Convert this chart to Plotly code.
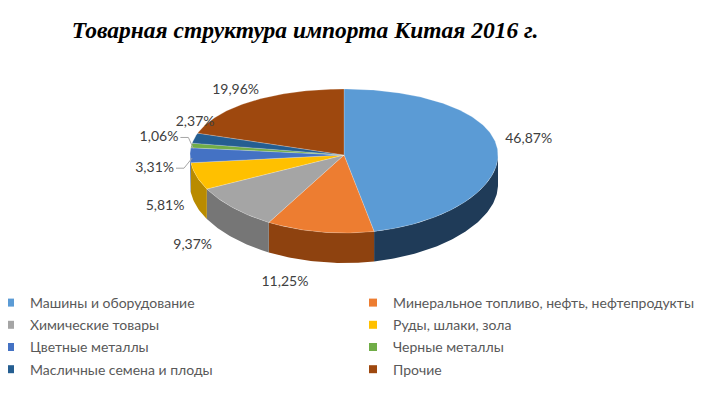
import numpy as np
import plotly.graph_objects as go

# ---------------- data ----------------
title_text = "Товарная структура импорта Китая 2016 г."
categories = [
    "Машины и оборудование",
    "Минеральное топливо, нефть, нефтепродукты",
    "Химические товары",
    "Руды, шлаки, зола",
    "Цветные металлы",
    "Черные металлы",
    "Масличные семена и плоды",
    "Прочие",
]
shares = [46.87, 11.25, 9.37, 5.81, 3.31, 1.06, 2.37, 19.96]

# ---------------- style ----------------
top_colors = ["#5B9BD5", "#ED7D31", "#A5A5A5", "#FFC000",
              "#4472C4", "#70AD47", "#255E91", "#9E480E"]
wall_colors = ["#1F3B58", "#8E420F", "#767676", "#B98B00",
               "#2E4F8C", "#4E7A32", "#183F62", "#6B3009"]
# label placement relative to the slice's outer edge (pixels) and text anchor
label_offsets = [(8, -8), (-35, 44), (-21, 38), (-12, 30),
                 (-16, 13), (-13, -8), (20, -16), (-18, -3)]
label_pos = ["middle right", "bottom center", "middle left", "middle left",
             "middle left", "middle left", "middle left", "top center"]
leader = [False, False, False, False, True, True, False, False]

W, H = 702, 398
PAGE_OFF = 8                  # the page body's default 8px margin
CX, CY, RX = 344, 155, 154
RY_A, RY_B = 72, -6          # slight perspective: far half flatter
DEPTH = 30
TEXT_COL = "#404040"
FONT = "Lato"


def px_x(p):
    return (p - PAGE_OFF) / W


def px_y(p):
    return 1 - (p - PAGE_OFF) / H


def ell(theta):
    """Point on the top rim; theta clockwise from 12 o'clock (radians)."""
    c = np.cos(theta)
    return CX + RX * np.sin(theta), CY - (RY_A * c + RY_B * c * c)


fig = go.Figure()

total = sum(shares)
bounds = np.concatenate([[0], np.cumsum(shares)]) / total * 2 * np.pi

# side walls (front half only)
for i, v in enumerate(shares):
    a0 = max(bounds[i], np.pi / 2)
    a1 = min(bounds[i + 1], 3 * np.pi / 2)
    if a1 <= a0:
        continue
    t = np.linspace(a0, a1, max(3, int(np.degrees(a1 - a0)) + 2))
    x, y = ell(t)
    xs = np.concatenate([x, x[::-1], x[:1]])
    ys = np.concatenate([y, y[::-1] + DEPTH, y[:1]])
    fig.add_trace(go.Scatter(x=xs, y=ys, mode="lines", fill="toself",
                             fillcolor=wall_colors[i], line=dict(width=0),
                             hoverinfo="skip", showlegend=False))

# top faces
for i, v in enumerate(shares):
    a0, a1 = bounds[i], bounds[i + 1]
    t = np.linspace(a0, a1, max(3, int(np.degrees(a1 - a0)) + 2))
    x, y = ell(t)
    xs = np.concatenate([[CX], x, [CX]])
    ys = np.concatenate([[CY], y, [CY]])
    fig.add_trace(go.Scatter(x=xs, y=ys, mode="lines", fill="toself",
                             fillcolor=top_colors[i],
                             line=dict(width=0.6, color="rgba(255,255,255,0.35)"),
                             name=categories[i], hoverinfo="name",
                             showlegend=False))

# labels
lx, ly, ltxt = [], [], []
for i, v in enumerate(shares):
    mid = (bounds[i] + bounds[i + 1]) / 2
    ex, ey = ell(mid)
    dx, dy = label_offsets[i]
    ax, ay = ex + dx, ey + dy
    lx.append(ax)
    ly.append(ay)
    ltxt.append(f"{v:.2f}".replace(".", ",") + "%")
    if leader[i]:
        fig.add_trace(go.Scatter(
            x=[ax + 2, ax + 10, ex + 2], y=[ay, ay, ey + 3], mode="lines",
            line=dict(color="#A6A6A6", width=1), hoverinfo="skip",
            showlegend=False))

fig.add_trace(go.Scatter(x=lx, y=ly, mode="text", text=ltxt,
                         textposition=label_pos,
                         textfont=dict(family=FONT, size=14, color=TEXT_COL),
                         hoverinfo="skip", showlegend=False))

# legend entries (two columns)
for i, cat in enumerate(categories):
    fig.add_trace(go.Scatter(
        x=[None], y=[None], mode="markers", name=cat,
        marker=dict(symbol="square", size=8, color=top_colors[i]),
        legend="legend" if i % 2 == 0 else "legend2",
        legendgroup=f"g{i}", showlegend=True))

legend_style = dict(orientation="v", xanchor="left", yanchor="top",
                    font=dict(family=FONT, size=14, color="#595959"),
                    bgcolor="rgba(0,0,0,0)", itemwidth=30, tracegroupgap=1,
                    y=px_y(287))

fig.update_layout(
    width=W, height=H,
    margin=dict(l=0, r=0, t=0, b=0, autoexpand=False),
    paper_bgcolor="white", plot_bgcolor="white",
    title=dict(text=title_text, x=px_x(305), xanchor="center",
               y=px_y(30), yanchor="middle",
               font=dict(family="Liberation Serif", size=23.5, color="black",
                         weight="bold", style="italic")),
    xaxis=dict(range=[PAGE_OFF, W + PAGE_OFF], visible=False, fixedrange=True),
    yaxis=dict(range=[H + PAGE_OFF, PAGE_OFF], visible=False, fixedrange=True),
    legend=dict(legend_style, x=px_x(-10)),
    legend2=dict(legend_style, x=px_x(353)),
    showlegend=True,
)

fig.write_html("out.html")
